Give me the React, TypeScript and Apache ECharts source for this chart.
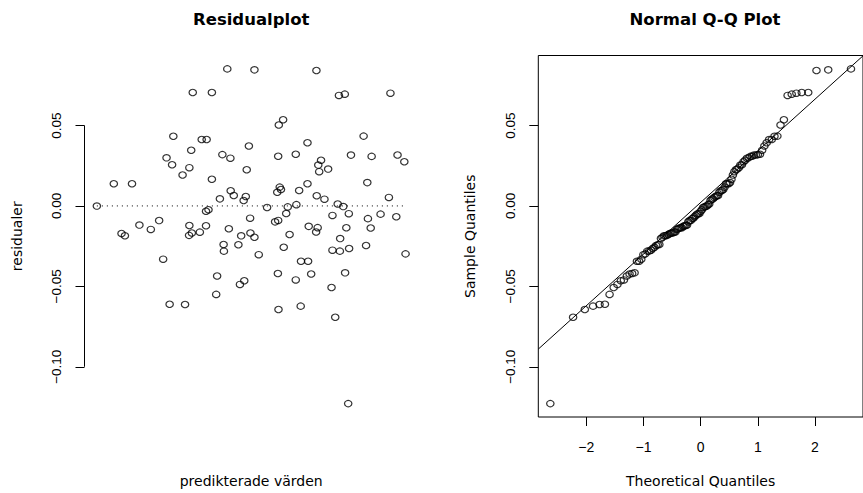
import React, { useEffect, useRef } from "react";
import * as echarts from "echarts";

// Predicted values (x of the residual plot; the axis carries no tick labels)
const predicted = [
  4.23, 5.11, 7.12, 3.11, 3.73, 7.85, 8.04, 9.52, 6.04, 5.90,
  2.48, 3.40, 3.56, 8.65, 4.93, 3.06, 6.83, 2.26, 2.44, 3.00,
  4.07, 4.33, 5.88, 6.45, 8.24, 8.91, 9.75, 9.97, 7.27, 7.18,
  7.50, 4.86, 2.78, 7.21, 0.55, 1.14, 3.73, 8.77, 6.83, 4.34,
  4.44, 4.83, 4.76, 3.99, 6.56, 5.93, 5.97, 5.85, 7.13, 7.38,
  9.47, 0.00, 5.52, 6.19, 6.47, 6.14, 7.81, 7.99, 8.17, 7.64,
  8.79, 9.20, 9.71, 4.97, 3.54, 3.62, 2.02, 1.38, 1.75, 0.80,
  0.91, 3.00, 2.99, 3.08, 3.34, 3.54, 4.28, 5.78, 5.88, 6.87,
  7.16, 7.11, 8.09, 8.88, 4.68, 4.98, 5.11, 6.25, 7.89, 4.11,
  4.12, 4.59, 6.06, 5.25, 7.64, 7.88, 8.18, 8.73, 10.01, 2.15,
  6.62, 6.85, 3.90, 3.87, 4.64, 4.78, 5.87, 6.45, 6.95, 8.05,
  7.61, 2.36, 2.86, 5.89, 6.61, 7.73, 8.15,
];

// Residuals (y of the residual plot; sample quantiles of the Q-Q plot)
const residuals = [
  0.0852, 0.0846, 0.0842, 0.0705, 0.0705, 0.0687, 0.0695, 0.0701, 0.0536, 0.0503,
  0.0433, 0.0413, 0.0413, 0.0434, 0.0373, 0.0346, 0.0393, 0.0299, 0.0256, 0.0238,
  0.0319, 0.0297, 0.0309, 0.0321, 0.0316, 0.0308, 0.0317, 0.0275, 0.0284, 0.0254,
  0.0229, 0.0225, 0.0192, 0.0213, 0.0138, 0.0138, 0.0166, 0.0145, 0.0138, 0.0094,
  0.0065, 0.0059, 0.0034, 0.0044, 0.0096, 0.0117, 0.0102, 0.0085, 0.0063, 0.0042,
  0.0053, -0.0001, -0.0010, -0.0006, 0.0008, -0.0047, 0.0012, -0.0004, -0.0048, -0.0059,
  -0.0079, -0.0051, -0.0067, -0.0076, -0.0033, -0.0024, -0.0091, -0.0119, -0.0146, -0.0171,
  -0.0185, -0.0122, -0.0183, -0.0168, -0.0163, -0.0123, -0.0142, -0.0099, -0.0090, -0.0127,
  -0.0135, -0.0162, -0.0136, -0.0137, -0.0186, -0.0168, -0.0195, -0.0178, -0.0203, -0.0240,
  -0.0281, -0.0241, -0.0257, -0.0303, -0.0275, -0.0281, -0.0265, -0.0246, -0.0298, -0.0331,
  -0.0344, -0.0344, -0.0436, -0.0550, -0.0488, -0.0465, -0.0420, -0.0460, -0.0423, -0.0416,
  -0.0507, -0.0611, -0.0613, -0.0644, -0.0623, -0.0692, -0.1229,
];

const yTicks = [-0.1, -0.05, 0, 0.05];
const qqTicks = [-2, -1, 0, 1, 2];

const titles = ["Residualplot", "Normal Q-Q Plot"];
const xNames = ["predikterade värden", "Theoretical Quantiles"];
const yNames = ["residualer", "Sample Quantiles"];

// inverse standard normal CDF (Acklam)
function qnorm(p: number): number {
  const a = [-39.69683028665376, 220.9460984245205, -275.9285104469687, 138.357751867269, -30.66479806614716, 2.506628277459239];
  const b = [-54.47609879822406, 161.5858368580409, -155.6989798598866, 66.80131188771972, -13.28068155288572];
  const c = [-0.007784894002430293, -0.3223964580411365, -2.400758277161838, -2.549732539343734, 4.374664141464968, 2.938163982698783];
  const d = [0.007784695709041462, 0.3224671290700398, 2.445134137142996, 3.754408661907416];
  const pl = 0.02425;
  if (p < pl) {
    const q = Math.sqrt(-2 * Math.log(p));
    return (((((c[0] * q + c[1]) * q + c[2]) * q + c[3]) * q + c[4]) * q + c[5]) / ((((d[0] * q + d[1]) * q + d[2]) * q + d[3]) * q + 1);
  }
  if (p <= 1 - pl) {
    const q = p - 0.5;
    const r = q * q;
    return ((((((a[0] * r + a[1]) * r + a[2]) * r + a[3]) * r + a[4]) * r + a[5]) * q) / (((((b[0] * r + b[1]) * r + b[2]) * r + b[3]) * r + b[4]) * r + 1);
  }
  const q = Math.sqrt(-2 * Math.log(1 - p));
  return -(((((c[0] * q + c[1]) * q + c[2]) * q + c[3]) * q + c[4]) * q + c[5]) / ((((d[0] * q + d[1]) * q + d[2]) * q + d[3]) * q + 1);
}

function padRange(vals: number[]): [number, number] {
  const lo = Math.min(...vals);
  const hi = Math.max(...vals);
  const d = (hi - lo) * 0.04;
  return [lo - d, hi + d];
}

function quantile7(sorted: number[], p: number): number {
  const h = (sorted.length - 1) * p;
  const lo = Math.floor(h);
  const hi = Math.min(lo + 1, sorted.length - 1);
  return sorted[lo] + (h - lo) * (sorted[hi] - sorted[lo]);
}

const minus = (s: string) => s.replace("-", "\u2212");

export default function App() {
  const ref = useRef<HTMLDivElement>(null);

  useEffect(() => {
    if (!ref.current) return;
    const chart = echarts.init(ref.current, undefined, { renderer: "svg" });

    const n = residuals.length;
    const sorted = [...residuals].sort((p, q) => p - q);
    const aa = n <= 10 ? 3 / 8 : 0.5;
    const theo = sorted.map((_, i) => qnorm((i + 1 - aa) / (n + 1 - 2 * aa)));
    const qqData = sorted.map((y, i) => [theo[i], y]);

    const yQ1 = quantile7(sorted, 0.25);
    const yQ3 = quantile7(sorted, 0.75);
    const xQ1 = qnorm(0.25);
    const xQ3 = qnorm(0.75);
    const slope = (yQ3 - yQ1) / (xQ3 - xQ1);
    const intercept = yQ1 - slope * xQ1;

    const yExt = padRange(residuals);
    const xExt0 = padRange(predicted);
    const xExt1 = padRange(theo);

    const tickFont = '"Liberation Sans", Arial, sans-serif';
    const nameFont = '"DejaVu Sans", sans-serif';
    const black = "#000";

    const gridTop = 55.5;
    const gridHeight = 366.7;
    const gridWidth = 333.4;
    const grid0Left = 84.5;
    const grid1Left = 538.3;

    const yAxisCommon = (name: string) => ({
      type: "value",
      min: yExt[0],
      max: yExt[1],
      axisLine: { show: false, onZero: false },
      splitLine: { show: false },
      axisTick: { show: true, customValues: yTicks, length: 9, lineStyle: { color: black, width: 1 } },
      axisLabel: {
        customValues: yTicks,
        rotate: 90,
        margin: 21,
        color: black,
        fontSize: 13.5,
        fontFamily: tickFont,
        formatter: (v: number) => minus(v.toFixed(2)),
      },
      name,
      nameLocation: "middle",
      nameGap: 61,
      nameTextStyle: { color: black, fontSize: 14, fontFamily: nameFont },
    });

    const symbolStyle = { color: "rgba(0,0,0,0)", borderColor: black, borderWidth: 1.15 };

    const option: any = {
      animation: false,
      backgroundColor: "#fff",
      grid: [
        { left: grid0Left, top: gridTop, width: gridWidth, height: gridHeight },
        {
          left: grid1Left,
          top: gridTop,
          width: gridWidth,
          height: gridHeight,
          show: true,
          borderColor: black,
          borderWidth: 1,
          backgroundColor: "transparent",
        },
      ],
      xAxis: [
        {
          gridIndex: 0,
          type: "value",
          min: xExt0[0],
          max: xExt0[1],
          axisLine: { show: false, onZero: false },
          axisTick: { show: false },
          axisLabel: { show: false },
          splitLine: { show: false },
          name: xNames[0],
          nameLocation: "middle",
          nameGap: 57,
          nameTextStyle: { color: black, fontSize: 14, fontFamily: nameFont },
        },
        {
          gridIndex: 1,
          type: "value",
          min: xExt1[0],
          max: xExt1[1],
          axisLine: { show: false, onZero: false },
          splitLine: { show: false },
          axisTick: { show: true, customValues: qqTicks, length: 9, lineStyle: { color: black, width: 1 } },
          axisLabel: {
            customValues: qqTicks,
            margin: 23,
            color: black,
            fontSize: 14,
            fontFamily: tickFont,
            formatter: (v: number) => minus(String(Math.round(v))),
          },
          name: xNames[1],
          nameLocation: "middle",
          nameGap: 57,
          nameTextStyle: { color: black, fontSize: 14, fontFamily: nameFont },
        },
      ],
      yAxis: [
        { gridIndex: 0, ...yAxisCommon(yNames[0]) },
        { gridIndex: 1, ...yAxisCommon(yNames[1]) },
      ],
      graphic: [
        {
          type: "text",
          x: grid0Left + gridWidth / 2,
          y: 19,
          style: {
            text: titles[0],
            align: "center",
            verticalAlign: "middle",
            fontSize: 16.5,
            fontWeight: "bold",
            fontFamily: nameFont,
            fill: black,
          },
        },
        {
          type: "text",
          x: grid1Left + gridWidth / 2,
          y: 19,
          style: {
            text: titles[1],
            align: "center",
            verticalAlign: "middle",
            fontSize: 16.5,
            fontWeight: "bold",
            fontFamily: nameFont,
            fill: black,
          },
        },
      ],
      series: [
        {
          type: "line",
          xAxisIndex: 0,
          yAxisIndex: 0,
          data: [
            [xExt0[0], yTicks[0]],
            [xExt0[0], yTicks[yTicks.length - 1]],
          ],
          symbol: "none",
          clip: false,
          silent: true,
          lineStyle: { color: black, width: 1 },
        },
        {
          type: "line",
          xAxisIndex: 0,
          yAxisIndex: 0,
          data: [
            [Math.min(...predicted), 0],
            [Math.max(...predicted), 0],
          ],
          symbol: "none",
          silent: true,
          lineStyle: { color: black, width: 1, type: [1, 4] },
        },
        {
          type: "scatter",
          xAxisIndex: 0,
          yAxisIndex: 0,
          data: predicted.map((x, i) => [x, residuals[i]]),
          symbol: "circle",
          symbolSize: [7.4, 6.4],
          itemStyle: symbolStyle,
        },
        {
          type: "scatter",
          xAxisIndex: 1,
          yAxisIndex: 1,
          data: qqData,
          symbol: "circle",
          symbolSize: [7.4, 6.4],
          itemStyle: symbolStyle,
        },
        {
          type: "line",
          xAxisIndex: 1,
          yAxisIndex: 1,
          data: [
            [xExt1[0], intercept + slope * xExt1[0]],
            [xExt1[1], intercept + slope * xExt1[1]],
          ],
          symbol: "none",
          clip: true,
          silent: true,
          lineStyle: { color: black, width: 1 },
        },
      ],
    };

    chart.setOption(option);
    return () => chart.dispose();
  }, []);

  return (
    <div
      ref={ref}
      style={{ position: "absolute", left: 0, top: 0, width: 863, height: 493 }}
    />
  );
}
